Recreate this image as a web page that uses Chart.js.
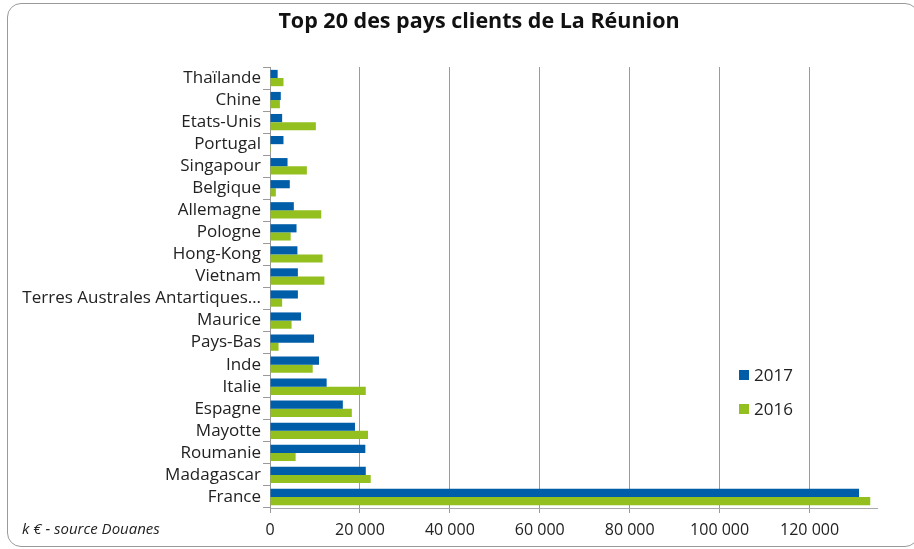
<!DOCTYPE html>
<html><head><meta charset="utf-8">
<script src="https://cdn.jsdelivr.net/npm/chart.js@4.4.0/dist/chart.umd.min.js"></script>
<style>
html,body{margin:0;padding:0;background:#fff;overflow:hidden;}
#wrap{position:relative;width:914px;height:549px;overflow:hidden;}
#frame{position:absolute;left:7px;top:3px;width:912px;height:544px;border:1px solid #9a9a9a;border-radius:14px;box-sizing:border-box;pointer-events:none;}
canvas{position:absolute;left:0;top:0;}
</style></head>
<body>
<div id="wrap"><canvas id="c" width="914" height="549"></canvas><div id="frame"></div></div>
<script>
const categories = ['Thaïlande','Chine','Etats-Unis','Portugal','Singapour','Belgique','Allemagne','Pologne','Hong-Kong','Vietnam','Terres Australes Antartiques…','Maurice','Pays-Bas','Inde','Italie','Espagne','Mayotte','Roumanie','Madagascar','France'];
const values2017 = [1700,2400,2700,3000,3900,4400,5300,5900,6100,6200,6200,6900,9800,10900,12600,16200,18900,21200,21300,131000];
const values2016 = [3000,2200,10200,200,8200,1300,11400,4600,11700,12100,2700,4800,1900,9500,21300,18200,21800,5700,22400,133500];
const seriesNames = ['2017','2016'];
const xTicks = [0,20000,40000,60000,80000,100000,120000];
const titleText = 'Top 20 des pays clients de La Réunion';
const footnote = 'k € - source Douanes';

const FONT = 'Open Sans';
const BLUE = '#005da8';
const GREEN = '#93c01f';

function fmt(v){return v.toString().replace(/\B(?=(\d{3})+(?!\d))/g,' ');}

const extras = {
  id:'extras',
  afterDraw(chart){
    const ctx = chart.ctx;
    ctx.save();
    ctx.font = 'bold 21.5px "'+FONT+'"';
    ctx.fillStyle = '#111';
    ctx.textAlign = 'center';
    ctx.textBaseline = 'middle';
    ctx.fillText(titleText, 479, 22);
    const ds = chart.data.datasets;
    const lx = 739, ly = [375, 409];
    ctx.textAlign = 'left';
    ds.forEach((d,i)=>{
      ctx.fillStyle = d.backgroundColor;
      ctx.fillRect(lx, ly[i]-5, 10, 10);
      ctx.fillStyle = '#222';
      ctx.font = '17px "'+FONT+'"';
      ctx.fillText(d.label, lx+15, ly[i]+1);
    });
    ctx.font = 'italic 15px "'+FONT+'"';
    ctx.fillStyle = '#222';
    ctx.fillText(footnote, 22, 530);
    ctx.restore();
  }
};

new Chart(document.getElementById('c'), {
  type:'bar',
  data:{
    labels: categories,
    datasets:[
      {label:seriesNames[0], data:values2017, backgroundColor:BLUE, borderWidth:0, categoryPercentage:0.74, barPercentage:1},
      {label:seriesNames[1], data:values2016, backgroundColor:GREEN, borderWidth:0, categoryPercentage:0.74, barPercentage:1}
    ]
  },
  options:{
    indexAxis:'y',
    responsive:false,
    animation:false,
    layout:{padding:{left:10,right:37,top:67,bottom:0}},
    plugins:{
      legend:{display:false},
      tooltip:{enabled:false},
      title:{display:false}
    },
    scales:{
      x:{
        min:0,max:135000,
        afterBuildTicks(scale){scale.ticks = xTicks.map(v=>({value:v}));},
        afterFit(scale){scale.height = 41;},
        ticks:{color:'#222',font:{family:FONT,size:16},padding:8,maxRotation:0,callback:(v)=>fmt(v)},
        grid:{color:'#9a9a9a',lineWidth:1,tickLength:5,drawTicks:true},
        border:{color:'#aaa'}
      },
      y:{
        afterFit(scale){scale.width = 260;},
        ticks:{color:'#222',font:{family:FONT,size:17},padding:2,autoSkip:false},
        grid:{drawOnChartArea:false,tickLength:7,color:'#999'},
        border:{color:'#999'}
      }
    }
  },
  plugins:[extras]
});
</script>
</body></html>
